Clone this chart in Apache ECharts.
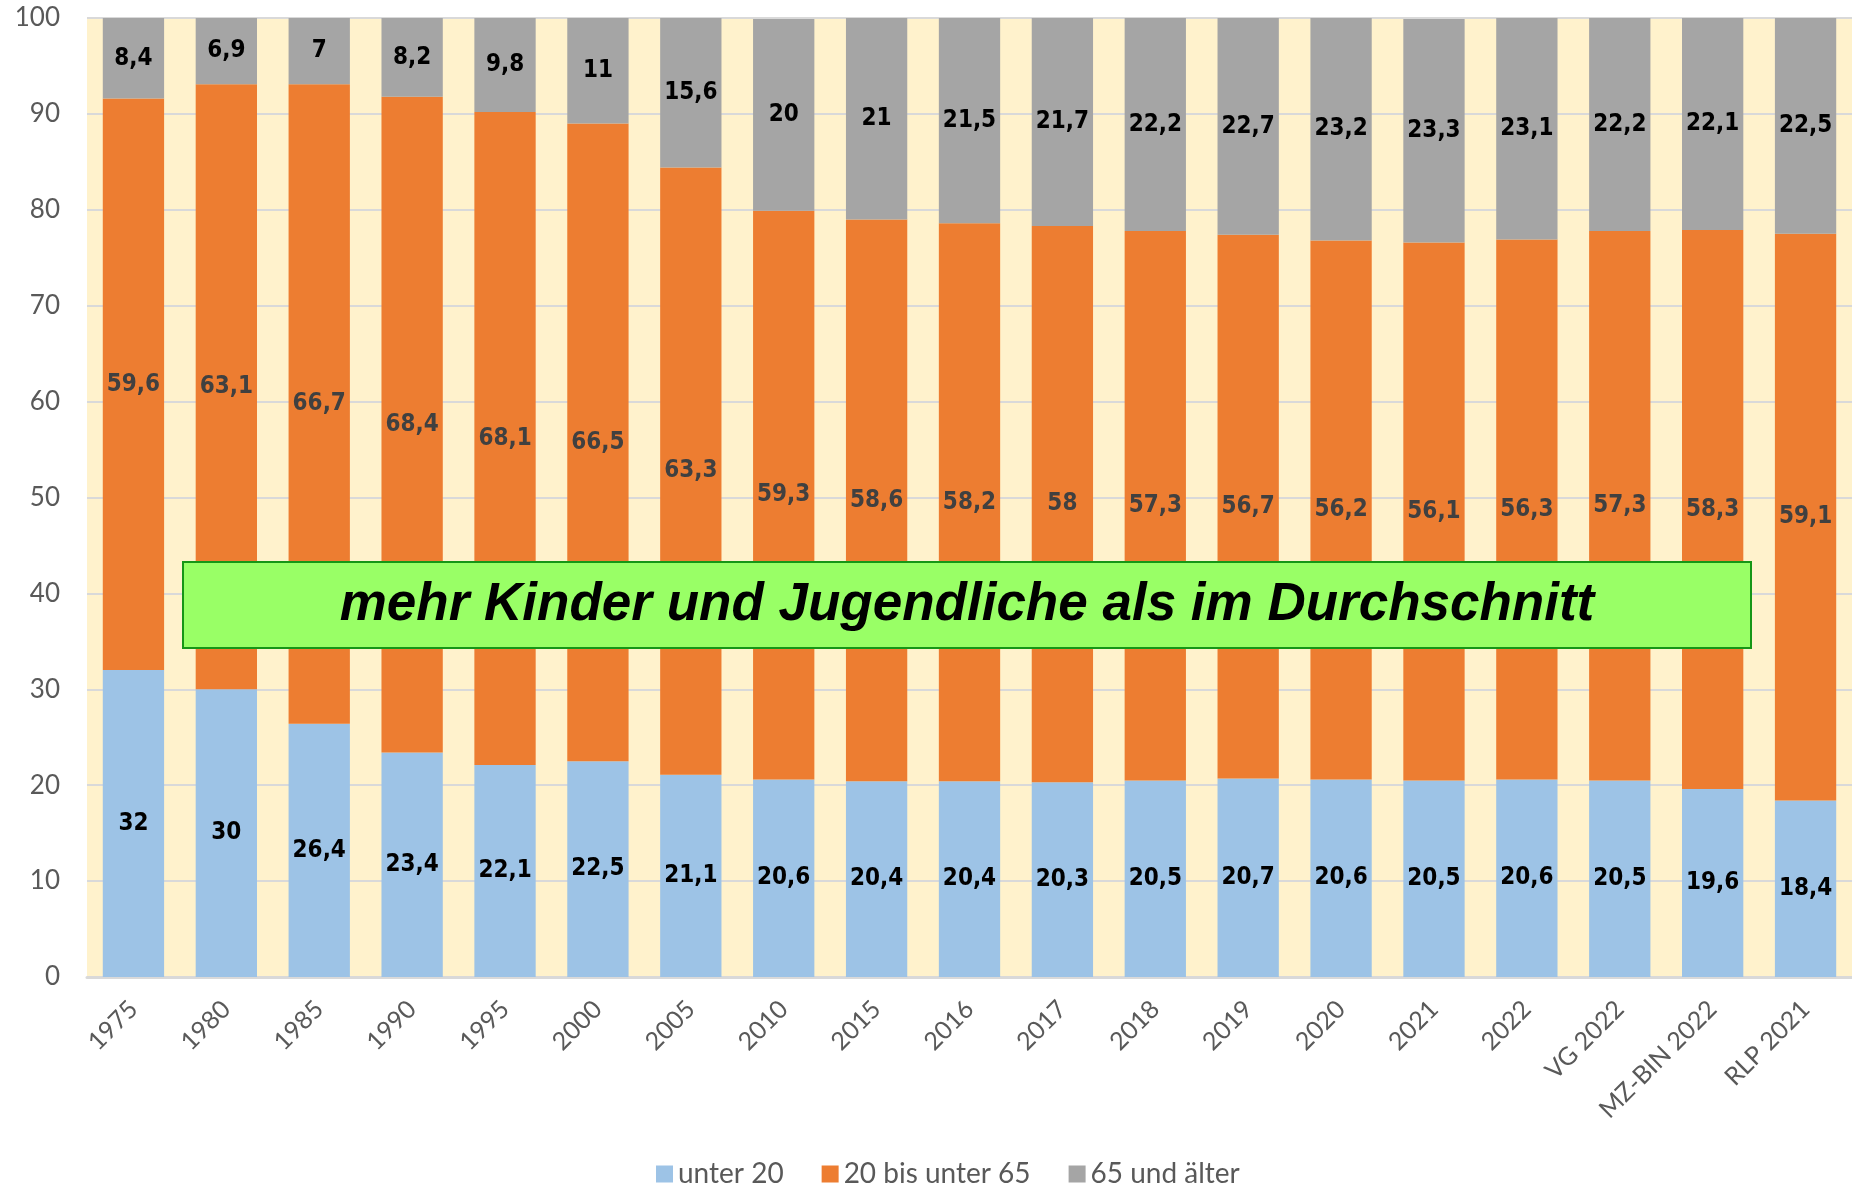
<!DOCTYPE html>
<html>
<head>
    <meta charset="UTF-8">
    <title>Altersstruktur</title>
    <script src="https://cdn.jsdelivr.net/npm/echarts@6/dist/echarts.min.js"></script>
    <style>
        html, body { margin: 0; padding: 0; background: #fff; }
        #main { width: 1852px; height: 1186px; }
    </style>
</head>
<body>
<div id="main"></div>
<script type="text/javascript">

    // Kategorien (x-Achse)
    var categories = ['1975', '1980', '1985', '1990', '1995', '2000', '2005', '2010', '2015', '2016',
        '2017', '2018', '2019', '2020', '2021', '2022', 'VG 2022', 'MZ-BIN 2022', 'RLP 2021'];

    // Anteile in %
    var unter20 = [32, 30, 26.4, 23.4, 22.1, 22.5, 21.1, 20.6, 20.4, 20.4,
        20.3, 20.5, 20.7, 20.6, 20.5, 20.6, 20.5, 19.6, 18.4];
    var bis65 = [59.6, 63.1, 66.7, 68.4, 68.1, 66.5, 63.3, 59.3, 58.6, 58.2,
        58, 57.3, 56.7, 56.2, 56.1, 56.3, 57.3, 58.3, 59.1];
    var ab65 = [8.4, 6.9, 7, 8.2, 9.8, 11, 15.6, 20, 21, 21.5,
        21.7, 22.2, 22.7, 23.2, 23.3, 23.1, 22.2, 22.1, 22.5];

    var seriesNames = ['unter 20', '20 bis unter 65', '65 und älter'];
    var hinweis = 'mehr Kinder und Jugendliche als im Durchschnitt';

    function komma(p) {
        return String(p.value).replace('.', ',');
    }

    function serie(name, data, color, labelColor) {
        return {
            name: name,
            type: 'bar',
            stack: 'gesamt',
            barCategoryGap: '34%',
            data: data,
            itemStyle: { color: color },
            label: {
                show: true,
                position: 'inside',
                formatter: komma,
                color: labelColor,
                fontWeight: 'bold',
                fontSize: 24,
                fontFamily: "'DejaVu Sans Condensed', 'DejaVu Sans', sans-serif"
            }
        };
    }

    var myChart = echarts.init(document.getElementById('main'));

    myChart.setOption({
        animation: false,
        textStyle: { fontFamily: 'Lato, sans-serif' },
        grid: {
            left: 87, right: 0, top: 18, bottom: 209,
            show: true, backgroundColor: '#FFF2CC', borderWidth: 0
        },
        legend: {
            left: 651, top: 1155,
            itemWidth: 17, itemHeight: 17, itemGap: 38,
            icon: 'rect',
            data: seriesNames,
            textStyle: { color: '#595959', fontSize: 28 }
        },
        xAxis: {
            type: 'category',
            data: categories,
            axisTick: { show: false },
            axisLine: { lineStyle: { color: '#D9D9D9', width: 3 } },
            axisLabel: { rotate: 45, margin: 28, color: '#595959', fontSize: 25, interval: 0 }
        },
        yAxis: {
            type: 'value',
            min: 0, max: 100, interval: 10,
            axisLine: { show: false },
            axisTick: { show: false },
            splitLine: { lineStyle: { color: '#D9D9D9', width: 2 } },
            axisLabel: { margin: 27, color: '#595959', fontSize: 26 }
        },
        series: [
            serie(seriesNames[0], unter20, '#9DC3E6', '#000000'),
            serie(seriesNames[1], bis65, '#ED7D31', '#404040'),
            serie(seriesNames[2], ab65, '#A5A5A5', '#000000')
        ],
        graphic: [{
            type: 'group',
            left: 182, top: 561,
            z: 100,
            children: [{
                type: 'rect',
                z: 100,
                shape: { x: 0, y: 0, width: 1568, height: 86 },
                style: { fill: '#99FF66', stroke: '#169616', lineWidth: 2 }
            }, {
                type: 'text',
                z: 101,
                x: 784, y: 43,
                style: {
                    text: hinweis,
                    fill: '#000',
                    font: "italic bold 53px 'Liberation Sans', Arial, sans-serif",
                    align: 'center',
                    verticalAlign: 'middle'
                }
            }]
        }]
    });

</script>
</body>
</html>
